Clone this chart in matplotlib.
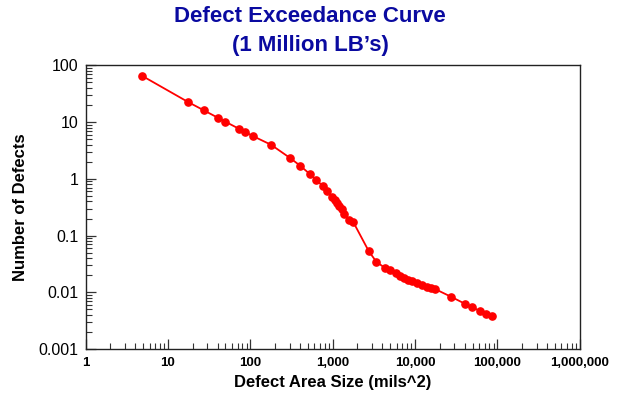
import matplotlib
matplotlib.use("Agg")
import matplotlib.pyplot as plt
from matplotlib.ticker import FixedLocator, FixedFormatter, LogLocator, NullFormatter

plt.rcParams['font.family'] = ['Liberation Sans', 'DejaVu Sans']

# Defect area size (mils^2) and exceedance count per 1 million LBs
area = [4.83, 17.7, 27.4, 40.2, 49.7, 72.9, 85.5, 108, 179, 306, 405, 531, 637,
        758, 862, 991, 1069, 1140, 1206, 1290, 1388, 1570, 1786, 2748, 3399,
        4368, 4981, 5892, 6590, 7373, 8247, 9299, 10690, 12300, 13900, 15550,
        17400, 27700, 40600, 49800, 62300, 73100, 85700]
defects = [65.8, 22.5, 16.1, 12.0, 10.2, 7.64, 6.77, 5.67, 3.99, 2.32, 1.70,
           1.21, 0.96, 0.744, 0.617, 0.483, 0.428, 0.379, 0.336, 0.292, 0.245,
           0.185, 0.172, 0.0531, 0.0345, 0.0266, 0.0245, 0.0215, 0.0198,
           0.0182, 0.0168, 0.0157, 0.0145, 0.0133, 0.0123, 0.0117, 0.0115,
           0.0083, 0.00627, 0.00546, 0.00464, 0.00422, 0.00379]

x_ticks = [1, 10, 100, 1000, 10000, 100000, 1000000]
x_tick_labels = ["1", "10", "100", "1,000", "10,000", "100,000", "1,000,000"]
y_ticks = [0.001, 0.01, 0.1, 1, 10, 100]
y_tick_labels = ["0.001", "0.01", "0.1", "1", "10", "100"]

fig = plt.figure(figsize=(6.2, 3.94), dpi=100)
ax = fig.add_axes([0.138, 0.114, 0.797, 0.72])

ax.plot(area, defects, color='#FF0000', linewidth=1.3, marker='o',
        markersize=5.2, markerfacecolor='#FF0000', markeredgecolor='#FF0000')

ax.set_xscale('log')
ax.set_yscale('log')
ax.set_xlim(1, 1e6)
ax.set_ylim(0.001, 100)

ax.xaxis.set_major_locator(FixedLocator(x_ticks))
ax.xaxis.set_major_formatter(FixedFormatter(x_tick_labels))
ax.yaxis.set_major_locator(FixedLocator(y_ticks))
ax.yaxis.set_major_formatter(FixedFormatter(y_tick_labels))
for axis in (ax.xaxis, ax.yaxis):
    axis.set_minor_locator(LogLocator(base=10, subs=range(2, 10), numticks=20))
    axis.set_minor_formatter(NullFormatter())

ax.tick_params(which='major', direction='in', length=7, width=0.9, color='#333333',
               top=False, right=False)
ax.tick_params(which='minor', direction='in', length=4, width=0.8, color='#333333',
               top=False, right=False)
ax.tick_params(axis='x', which='major', pad=6, labelsize=9.5)
ax.tick_params(axis='y', which='major', pad=5, labelsize=11.5)
for lab in ax.get_xticklabels():
    lab.set_fontweight('bold')

for side in ('left', 'bottom', 'top', 'right'):
    ax.spines[side].set_linewidth(1.0)
    ax.spines[side].set_color('#222222')

ax.set_xlabel("Defect Area Size (mils^2)", fontsize=12, fontweight='bold', labelpad=4)
ax.set_ylabel("Number of Defects", fontsize=12, fontweight='bold', labelpad=8)

fig.text(0.5, 0.957, "Defect Exceedance Curve", ha='center', va='center',
         fontsize=16, fontweight='bold', color='#0A0AA0')
fig.text(0.5, 0.885, "(1 Million LB\u2019s)", ha='center', va='center',
         fontsize=16, fontweight='bold', color='#0A0AA0')

fig.savefig("out.png", dpi=100)
